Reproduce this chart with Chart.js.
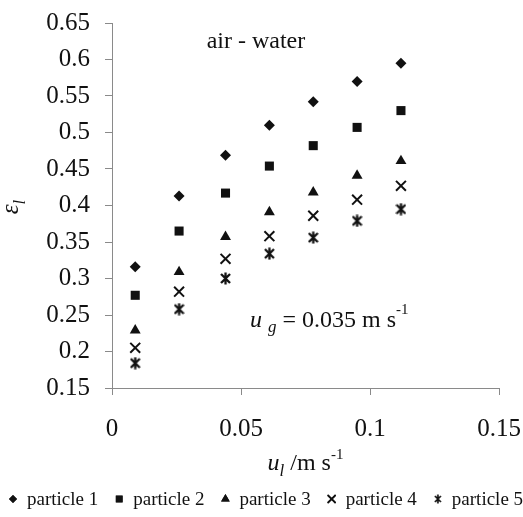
<!DOCTYPE html>
<html>
<head>
<meta charset="utf-8">
<script src="https://cdn.jsdelivr.net/npm/chart.js@4"></script>
<style>
body { margin: 0; background: #fff; }
</style>
</head>
<body>
<canvas id="myChart" width="523" height="517"></canvas>
<script>
// liquid superficial velocity u_l (m/s)
const ul = [0.009, 0.026, 0.044, 0.061, 0.078, 0.095, 0.112];

// liquid holdup for each particle
const particle1 = [0.316, 0.413, 0.469, 0.510, 0.542, 0.570, 0.595];
const particle2 = [0.277, 0.365, 0.417, 0.454, 0.482, 0.507, 0.530];
const particle3 = [0.229, 0.309, 0.357, 0.391, 0.418, 0.441, 0.461];
const particle4 = [0.205, 0.282, 0.327, 0.358, 0.386, 0.408, 0.427];
const particle5 = [0.184, 0.258, 0.300, 0.334, 0.356, 0.379, 0.395];

const seriesNames = ['particle 1', 'particle 2', 'particle 3', 'particle 4', 'particle 5'];

const xTicks = [0, 0.05, 0.1, 0.15];
const xTickLabels = ['0', '0.05', '0.1', '0.15'];
const yTicks = [0.15, 0.2, 0.25, 0.3, 0.35, 0.4, 0.45, 0.5, 0.55, 0.6, 0.65];
const yTickLabels = ['0.15', '0.2', '0.25', '0.3', '0.35', '0.4', '0.45', '0.5', '0.55', '0.6', '0.65'];

const ink = '#111111';
const axisGray = '#8a8a8a';
const serif = "'Liberation Serif', 'Times New Roman', serif";

// asterisk marker: an x with a vertical bar through it
function makeStar(w, h, lw) {
    const c = document.createElement('canvas');
    c.width = w;
    c.height = h;
    const g = c.getContext('2d');
    g.strokeStyle = ink;
    g.lineWidth = lw;
    const t = (h - w) / 2 + 1;
    g.beginPath();
    g.moveTo(1, t); g.lineTo(w - 1, h - t);
    g.moveTo(w - 1, t); g.lineTo(1, h - t);
    g.moveTo(w / 2, 0.5); g.lineTo(w / 2, h - 0.5);
    g.stroke();
    return c;
}
const starBig = makeStar(11, 13, 2.3);
const starSmall = makeStar(8, 10, 1.7);

const toPoints = ys => ul.map((x, i) => ({ x: x, y: ys[i] }));

const markers = [
    { pointStyle: 'rectRot', pointRadius: 5.5, borderWidth: 0, legendRadius: 4 },
    { pointStyle: 'rect', pointRadius: 6.4, borderWidth: 0, legendRadius: 4.8 },
    { pointStyle: 'triangle', pointRadius: 6.3, borderWidth: 0, legendRadius: 5 },
    { pointStyle: 'crossRot', pointRadius: 7, borderWidth: 2, legendRadius: 5.5 },
    { pointStyle: starBig, pointRadius: 6, borderWidth: 2, legendRadius: 5, legendStyle: starSmall },
];

const allSeries = [particle1, particle2, particle3, particle4, particle5];

const chartData = {
    datasets: allSeries.map((ys, i) => ({
        label: seriesNames[i],
        data: toPoints(ys),
        showLine: false,
        pointStyle: markers[i].pointStyle,
        pointRadius: markers[i].pointRadius,
        pointBorderWidth: markers[i].borderWidth,
        backgroundColor: ink,
        borderColor: ink,
    }))
};

// draws runs of text one after the other: [text, size, italic, dy]
function drawRuns(ctx, x, y, parts) {
    parts.forEach(p => {
        ctx.font = (p[2] ? 'italic ' : '') + p[1] + 'px ' + serif;
        ctx.fillText(p[0], x, y + (p[3] || 0));
        x += ctx.measureText(p[0]).width;
    });
    return x;
}
function runsWidth(ctx, parts) {
    let w = 0;
    parts.forEach(p => {
        ctx.font = (p[2] ? 'italic ' : '') + p[1] + 'px ' + serif;
        w += ctx.measureText(p[0]).width;
    });
    return w;
}

const textPlugin = {
    id: 'texts',
    afterDraw(chart) {
        const ctx = chart.ctx;
        const xs = chart.scales.x, ys = chart.scales.y;
        const area = chart.chartArea;
        ctx.save();
        ctx.fillStyle = ink;
        ctx.textBaseline = 'alphabetic';
        ctx.textAlign = 'left';

        // annotation: air - water
        const aw = [['air - water', 24, false]];
        drawRuns(ctx, xs.getPixelForValue(0.0558) - runsWidth(ctx, aw) / 2, ys.getPixelForValue(0.616), aw);

        // annotation: u_g = 0.035 m s^-1
        drawRuns(ctx, xs.getPixelForValue(0.0535), ys.getPixelForValue(0.2336), [
            ['u', 24, true], ['  ', 12, false], ['g', 17, true, 5],
            [' = 0.035 m s', 24, false], ['-1', 15, false, -13]
        ]);

        // x axis title
        const xt = [['u', 24, true], ['l', 17, true, 6], [' /m s', 24, false], ['-1', 15, false, -11]];
        drawRuns(ctx, (area.left + area.right) / 2 - runsWidth(ctx, xt) / 2, 470, xt);

        // y axis title, rotated
        ctx.save();
        ctx.translate(18, 207);
        ctx.rotate(-Math.PI / 2);
        const yt = [['ε', 25, true], ['l', 17, true, 7]];
        drawRuns(ctx, -runsWidth(ctx, yt) / 2, 0, yt);
        ctx.restore();

        // legend row
        let cx = 13;
        chart.data.datasets.forEach((ds, i) => {
            const m = markers[i];
            Chart.helpers.drawPoint(ctx, {
                pointStyle: m.legendStyle || m.pointStyle,
                radius: m.legendRadius,
                rotation: 0,
                borderWidth: m.borderWidth ? 1.6 : 0
            }, cx, 499);
            ctx.fillStyle = ink;
            ctx.strokeStyle = ink;
            if (m.borderWidth) {
                ctx.lineWidth = 1.6;
                ctx.stroke();
            } else {
                ctx.fill();
            }
            const end = drawRuns(ctx, cx + 14, 505, [[ds.label, 19, false]]);
            cx = end + 21;
        });
        ctx.restore();
    }
};

const tickFont = { family: serif, size: 25 };

// keep the plot area exactly where the layout padding puts it
function noOverflow(s) {
    s.paddingLeft = 0;
    s.paddingRight = 0;
    s.paddingTop = 0;
    s.paddingBottom = 0;
}

const chartDemo = new Chart(document.getElementById('myChart'), {
    type: 'scatter',
    data: chartData,
    options: {
        responsive: false,
        animation: false,
        devicePixelRatio: 1,
        layout: { padding: { top: 23, right: 24, left: 0, bottom: 0 } },
        plugins: {
            legend: { display: false },
            tooltip: { enabled: false }
        },
        scales: {
            x: {
                type: 'linear',
                min: 0,
                max: 0.15,
                afterBuildTicks: s => { s.ticks = xTicks.map(v => ({ value: v })); },
                afterFit: s => { s.height = 129; noOverflow(s); },
                ticks: {
                    font: tickFont,
                    color: ink,
                    padding: 19,
                    maxRotation: 0,
                    callback: (v, i) => xTickLabels[i]
                },
                grid: { drawOnChartArea: false, tickLength: 7, color: axisGray },
                border: { color: axisGray, width: 1 }
            },
            y: {
                type: 'linear',
                min: 0.15,
                max: 0.65,
                afterBuildTicks: s => { s.ticks = yTicks.map(v => ({ value: v })); },
                afterFit: s => { s.width = 112; noOverflow(s); },
                ticks: {
                    font: tickFont,
                    color: ink,
                    padding: 15,
                    callback: (v, i) => yTickLabels[i]
                },
                grid: { drawOnChartArea: false, tickLength: 7, color: axisGray },
                border: { color: axisGray, width: 1 }
            }
        }
    },
    plugins: [textPlugin]
});
</script>
</body>
</html>
